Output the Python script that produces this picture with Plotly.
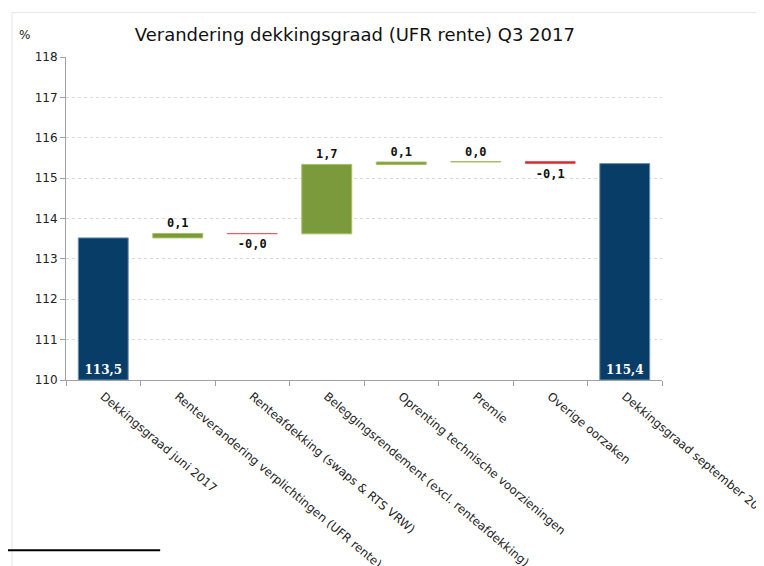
import plotly.graph_objects as go

categories = [
    "Dekkingsgraad juni 2017",
    "Renteverandering verplichtingen (UFR rente)",
    "Renteafdekking (swaps & RTS VRW)",
    "Beleggingsrendement (excl. renteafdekking)",
    "Oprenting technische voorzieningen",
    "Premie",
    "Overige oorzaken",
    "Dekkingsgraad september 2017",
]
values = [113.52, 0.11, -0.01, 1.72, 0.06, 0.01, -0.05, 0]
measures = ["absolute", "relative", "relative", "relative", "relative", "relative", "relative", "total"]
labels = ["113,5", "0,1", "-0,0", "1,7", "0,1", "0,0", "-0,1", "115,4"]

AXIS_MIN = 110
# waterfall drawn from the axis minimum: absolute values shifted by the base
y_vals = [v - AXIS_MIN if m == "absolute" else v for v, m in zip(values, measures)]
positions = ["inside" if m != "relative" else "outside" for m in measures]

fig = go.Figure(go.Waterfall(
    x=categories,
    y=y_vals,
    measure=measures,
    base=AXIS_MIN,
    text=["<b>" + t + "</b>" for t in labels],
    textposition=positions,
    insidetextanchor="start",
    insidetextfont=dict(family="DejaVu Serif", size=12, color="white"),
    outsidetextfont=dict(family="DejaVu Sans Mono", size=12, color="#111111"),
    cliponaxis=False,
    connector=dict(visible=False),
    increasing=dict(marker=dict(color="#7b9a3c", line=dict(color="#a6c063", width=1))),
    decreasing=dict(marker=dict(color="#e0242c", line=dict(color="#e0242c", width=0.5))),
    totals=dict(marker=dict(color="#083d68", line=dict(color="#6f8fae", width=1))),
    width=0.67,
    hoverinfo="skip",
))

fig.update_layout(
    width=764,
    height=566,
    margin=dict(l=58, r=110, t=49, b=194),
    paper_bgcolor="white",
    plot_bgcolor="white",
    showlegend=False,
    font=dict(family="DejaVu Sans", size=11, color="#222222"),
    title=dict(
        text="Verandering dekkingsgraad (UFR rente) Q3 2017",
        x=0.454, xanchor="center", y=0.952, yanchor="middle",
        font=dict(family="DejaVu Sans", size=18, color="#111111"),
    ),
    annotations=[dict(
        text="%", xref="paper", yref="paper", x=-0.07, y=1.068,
        xanchor="center", yanchor="middle", showarrow=False,
        font=dict(family="DejaVu Sans", size=12, color="#222222"),
    )],
    shapes=[
        dict(type="line", xref="paper", yref="paper", x0=-0.0906, x1=1.2, y0=1.138, y1=1.138,
             line=dict(color="#e6e6e6", width=1)),
        dict(type="line", xref="paper", yref="paper", x0=-0.0906, x1=-0.0906, y0=1.138, y1=-0.6,
             line=dict(color="#e6e6e6", width=1)),
        dict(type="line", xref="paper", yref="paper", x0=-0.111, x1=0.158, y0=-0.527, y1=-0.527,
             line=dict(color="black", width=2)),
    ],
)

fig.update_yaxes(
    range=[110, 118], dtick=1, showgrid=True,
    gridcolor="#dadada", griddash="dot", gridwidth=1,
    showline=True, linecolor="#a0a0a0", linewidth=1,
    ticks="outside", ticklen=5, tickcolor="#a0a0a0",
    tickfont=dict(family="DejaVu Sans", size=12, color="#222222"),
    zeroline=False, fixedrange=True,
)
fig.update_xaxes(
    tickangle=40, tickson="boundaries",
    showline=True, linecolor="#a0a0a0", linewidth=1,
    ticks="outside", ticklen=5, tickcolor="#a0a0a0",
    tickfont=dict(family="DejaVu Sans", size=11.8, color="#222222"),
    ticklabelstandoff=4,
    automargin=False, showgrid=False,
)

fig.write_html("out.html")
